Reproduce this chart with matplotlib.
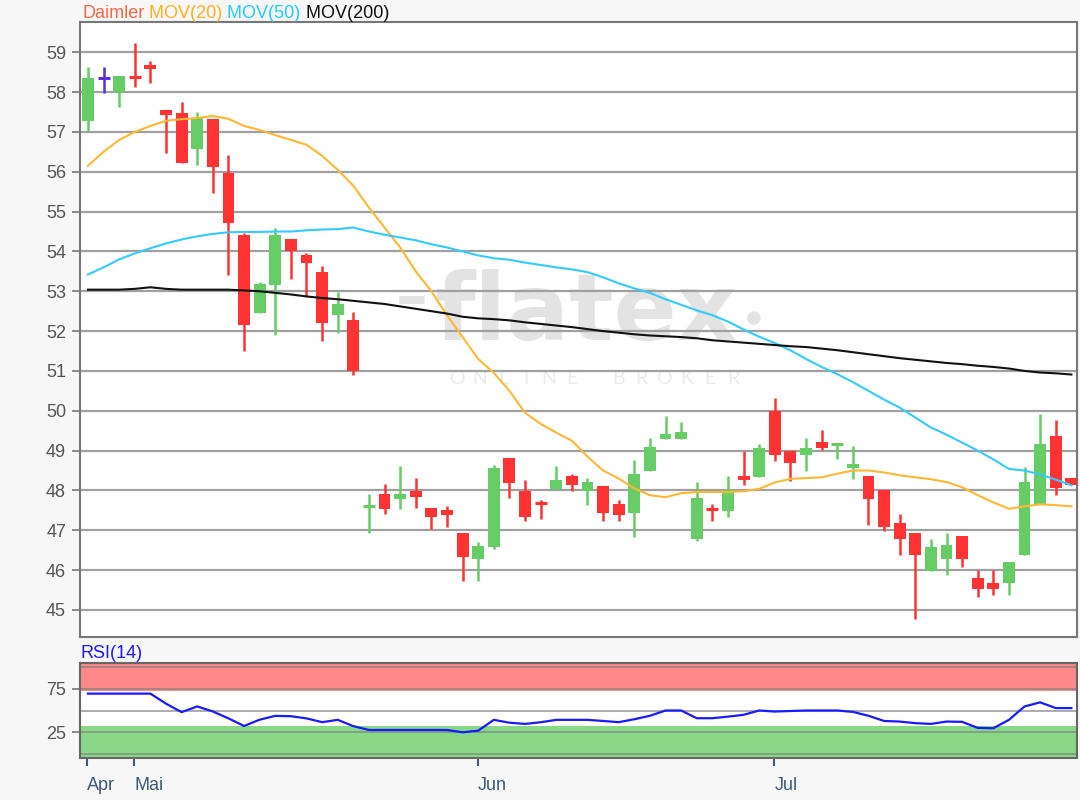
import matplotlib
matplotlib.use("Agg")
import matplotlib.pyplot as plt
import numpy as np

plt.rcParams['font.family'] = ['Liberation Sans', 'DejaVu Sans']

# ---------------- data ----------------
opens = [57.28, 58.35, 58.01, 58.41, 58.67, 57.55, 57.47, 56.57, 57.32, 55.96,
         54.40, 52.46, 53.16, 54.31, 53.90, 53.49, 52.41, 52.28, 47.58, 47.92,
         47.78, 47.98, 47.57, 47.52, 46.92, 46.28, 46.58, 48.82, 47.98, 47.70,
         48.03, 48.36, 47.98, 48.11, 47.67, 47.43, 48.48, 49.28, 49.28, 46.77,
         47.55, 47.48, 48.36, 48.33, 50.00, 48.98, 48.88, 49.21, 49.15, 48.57,
         48.36, 48.02, 47.17, 46.92, 45.98, 46.28, 46.86, 45.81, 45.67, 45.68,
         46.38, 47.65, 49.36, 48.31]
highs = [58.62, 58.62, 58.41, 59.23, 58.77, 57.55, 57.76, 57.51, 57.32, 56.41,
         54.46, 53.24, 54.60, 54.31, 53.95, 53.64, 52.97, 52.49, 47.92, 48.17,
         48.61, 48.32, 47.57, 47.61, 46.92, 46.71, 48.65, 48.82, 48.27, 47.77,
         48.61, 48.40, 48.31, 48.11, 47.77, 48.77, 49.31, 49.88, 49.71, 48.21,
         47.65, 48.36, 49.00, 49.17, 50.32, 48.98, 49.31, 49.52, 49.17, 49.11,
         48.36, 48.02, 47.42, 46.92, 46.77, 46.92, 46.86, 46.00, 46.00, 46.21,
         48.60, 49.92, 49.77, 48.31]
lows = [57.03, 57.99, 57.62, 58.12, 58.22, 56.46, 56.21, 56.17, 55.46, 53.41,
        51.51, 52.46, 51.90, 53.31, 52.89, 51.75, 51.95, 50.90, 46.93, 47.42,
        47.53, 47.57, 47.02, 47.08, 45.73, 45.73, 46.52, 47.82, 47.23, 47.27,
        48.03, 47.98, 47.63, 47.23, 47.23, 46.83, 48.48, 49.28, 49.28, 46.73,
        47.23, 47.33, 48.13, 48.33, 48.73, 48.23, 48.48, 49.02, 48.78, 48.28,
        47.13, 46.98, 46.38, 44.77, 45.98, 45.88, 46.07, 45.32, 45.38, 45.38,
        46.38, 47.65, 47.88, 48.14]
closes = [58.36, 58.35, 58.41, 58.35, 58.58, 57.43, 56.21, 57.34, 56.13, 54.72,
          52.15, 53.18, 54.40, 54.01, 53.72, 52.20, 52.68, 51.01, 47.62, 47.53,
          47.92, 47.83, 47.33, 47.38, 46.33, 46.61, 48.56, 48.18, 47.33, 47.68,
          48.27, 48.13, 48.21, 47.43, 47.38, 48.40, 49.10, 49.42, 49.46, 47.82,
          47.53, 48.00, 48.27, 49.06, 48.88, 48.68, 49.06, 49.07, 49.17, 48.67,
          47.78, 47.08, 46.77, 46.38, 46.57, 46.63, 46.28, 45.53, 45.53, 46.21,
          48.21, 49.17, 48.07, 48.14]

mov20 = [56.15, 56.50, 56.80, 57.00, 57.15, 57.28, 57.32, 57.35, 57.40, 57.33,
         57.15, 57.05, 56.92, 56.80, 56.68, 56.40, 56.05, 55.65, 55.10, 54.60,
         54.10, 53.50, 53.00, 52.40, 51.85, 51.30, 50.95, 50.50, 49.95, 49.67,
         49.45, 49.25, 48.85, 48.50, 48.30, 48.05, 47.88, 47.83, 47.93, 47.96,
         47.96, 47.96, 47.98, 48.04, 48.20, 48.29, 48.31, 48.33, 48.42, 48.50,
         48.50, 48.45, 48.38, 48.33, 48.28, 48.21, 48.08, 47.88, 47.70, 47.54,
         47.60, 47.65, 47.63, 47.60]
mov50 = [53.42, 53.60, 53.80, 53.95, 54.08, 54.20, 54.30, 54.38, 54.44, 54.48,
         54.49, 54.49, 54.50, 54.50, 54.53, 54.55, 54.56, 54.60, 54.50, 54.42,
         54.35, 54.28, 54.18, 54.10, 54.00, 53.90, 53.83, 53.79, 53.72, 53.66,
         53.60, 53.55, 53.48, 53.35, 53.20, 53.07, 52.96, 52.80, 52.66, 52.52,
         52.40, 52.24, 52.04, 51.86, 51.70, 51.52, 51.30, 51.10, 50.92, 50.72,
         50.50, 50.28, 50.08, 49.83, 49.58, 49.40, 49.20, 49.00, 48.78, 48.54,
         48.50, 48.40, 48.27, 48.13]
mov200 = [53.04, 53.04, 53.04, 53.06, 53.10, 53.06, 53.04, 53.04, 53.04, 53.04,
          53.02, 53.00, 52.96, 52.92, 52.87, 52.83, 52.80, 52.76, 52.72, 52.68,
          52.62, 52.56, 52.50, 52.44, 52.36, 52.32, 52.30, 52.27, 52.22, 52.18,
          52.14, 52.10, 52.05, 52.00, 51.96, 51.92, 51.89, 51.87, 51.85, 51.82,
          51.77, 51.74, 51.71, 51.68, 51.65, 51.62, 51.60, 51.56, 51.52, 51.47,
          51.42, 51.37, 51.32, 51.28, 51.24, 51.20, 51.17, 51.13, 51.10, 51.06,
          51.00, 50.96, 50.94, 50.91]
rsi = [69.6, 69.6, 69.6, 69.6, 69.6, 58.0, 48.2, 54.8, 49.0, 41.0,
       32.2, 39.5, 43.9, 43.5, 41.0, 36.6, 39.3, 32.0, 27.6, 27.6,
       27.6, 27.6, 27.6, 27.6, 24.9, 26.8, 39.3, 36.0, 34.6, 36.5,
       39.3, 39.3, 39.3, 38.0, 36.6, 40.0, 44.0, 50.1, 50.1, 41.2,
       41.2, 43.0, 45.1, 50.1, 48.9, 49.5, 50.1, 50.1, 50.1, 48.5,
       44.0, 38.0, 37.3, 35.5, 34.6, 37.3, 37.0, 30.0, 29.6, 39.3,
       54.8, 59.5, 52.9, 52.9]

month_labels = ["Apr", "Mai", "Jun", "Jul"]
month_pos = [-0.08, 2.97, 24.96, 43.97]
price_ticks = list(range(45, 60))
rsi_ticks = [25, 75]

# ---------------- figure ----------------
W, H = 1080, 800
fig = plt.figure(figsize=(W / 100, H / 100), dpi=100)
fig.patch.set_facecolor('#f7f7f7')

def fr(l, t, r, b):
    return [l / W, 1 - b / H, (r - l) / W, (b - t) / H]

ax = fig.add_axes(fr(80, 22, 1077, 637))
axr = fig.add_axes(fr(80, 663, 1077, 758), sharex=ax)

n = len(opens)
x = np.arange(n)

GREEN = '#66cc66'
RED = '#ff3333'
DOJI = '#5a2de0'

# watermark (behind grid)
def fx(px):
    return px / W
def fy(py):
    return 1 - py / H

WM = '#e3e3e3'
ax.text(fx(586), fy(340), "flatex", transform=fig.transFigure, fontsize=67,
        fontweight='bold', color=WM, ha='center', va='baseline',
        zorder=0.5, family=['DejaVu Sans'])
ax.text(fx(412), fy(300), "\u2013", transform=fig.transFigure, fontsize=46,
        fontweight='bold', color=WM, ha='center', va='center', zorder=0.5,
        family=['DejaVu Sans'])
ax.text(fx(754), fy(318), "\u25cf", transform=fig.transFigure, fontsize=13,
        color=WM, ha='center', va='center', zorder=0.5, family=['DejaVu Sans'])
wm_letters = "ONLINE BROKER"
for k, ch in enumerate(wm_letters):
    if ch == ' ':
        continue
    ax.text(fx(457 + k * 23), fy(379), ch, transform=fig.transFigure,
            fontsize=14, color='#ebebeb', ha='center', va='center',
            zorder=0.5, family=['Lato', 'DejaVu Sans'])

# grid
for v in price_ticks:
    ax.axhline(v, color='#a0a0a0', lw=1.6, zorder=1)

# candles
for i in range(n):
    o, h, l, c = opens[i], highs[i], lows[i], closes[i]
    if abs(c - o) < 0.005:
        col = DOJI
    elif c > o:
        col = GREEN
    else:
        col = RED
    ax.vlines(x[i], l, h, color=col, lw=1.8, zorder=3)
    lo, hi = min(o, c), max(o, c)
    if hi - lo < 0.06:
        ax.hlines((o + c) / 2, x[i] - 0.38, x[i] + 0.38, color=col, lw=2.2, zorder=3)
    else:
        ax.bar(x[i], hi - lo, bottom=lo, width=0.76, color=col, edgecolor='none', zorder=3)

ax.plot(x, mov20, color='#ffb833', lw=1.5, zorder=4)
ax.plot(x, mov50, color='#33ccff', lw=1.5, zorder=4)
ax.plot(x, mov200, color='#111111', lw=1.5, zorder=4)

ax.set_xlim(-0.51, 63.36)
ax.set_ylim(44.32, 59.76)
ax.set_facecolor('white')
ax.set_yticks(price_ticks)
ax.set_yticklabels([str(v) for v in price_ticks])
ax.tick_params(axis='y', colors='#777777', labelcolor='#555555', labelsize=13,
               length=6, width=1.2, pad=4)
ax.tick_params(axis='x', bottom=False, labelbottom=False)
for s in ax.spines.values():
    s.set_color('#777777')
    s.set_linewidth(1.5)

# RSI panel
axr.set_facecolor('white')
axr.set_ylim(-4.8, 105)
axr.axhspan(72.5, 105, color='#ff8888', zorder=1, lw=0)
axr.axhspan(-4.8, 32.6, color='#88d888', zorder=1, lw=0)
for v in [0, 25, 50, 75, 100]:
    axr.axhline(v, color='#808080', lw=1.3, alpha=0.7, zorder=2)
axr.plot(x, rsi, color='#1a1aff', lw=1.6, zorder=3)
axr.set_yticks(rsi_ticks)
axr.set_yticklabels([str(v) for v in rsi_ticks])
axr.tick_params(axis='y', colors='#777777', labelcolor='#555555', labelsize=13,
                length=6, width=1.2, pad=4)
axr.set_xticks(month_pos)
axr.set_xticklabels(month_labels, ha='left')
axr.tick_params(axis='x', colors='#3d5a78', labelcolor='#3d5a78', labelsize=13,
                length=6, width=1.5, pad=8)
for s in axr.spines.values():
    s.set_color('#666666')
    s.set_linewidth(1.5)

axr.text(0.0, 1.095, "RSI(14)", transform=axr.transAxes, color='#1a1aff',
         fontsize=13, ha='left', va='center')

# title legend
renderer = fig.canvas.get_renderer()
parts = [("Daimler", '#ff6644'), (" MOV(20)", '#ffb020'),
         (" MOV(50)", '#22ccff'), (" MOV(200)", '#111111')]
xpos = 82 / W
for txt, col in parts:
    t = fig.text(xpos, 1 - 13 / H, txt, color=col, fontsize=13, ha='left', va='center')
    bb = t.get_window_extent(renderer=renderer)
    xpos += bb.width / W

fig.savefig("out.png", dpi=100, facecolor=fig.get_facecolor())
